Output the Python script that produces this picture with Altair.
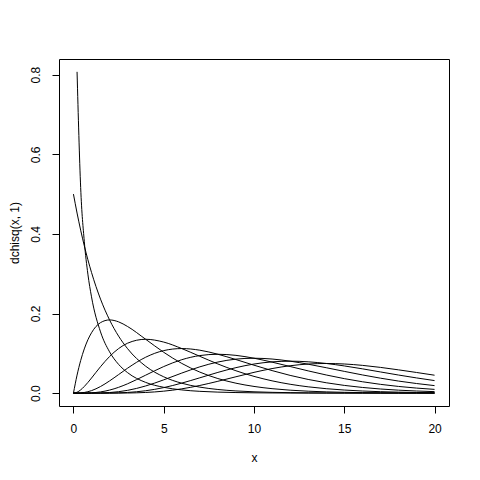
import altair as alt
import pandas as pd

# x grid and densities (degrees of freedom 1, 2, 4, ..., 16)
x_vals = [0, 0.2, 0.4, 0.6, 0.8, 1, 1.5, 2, 2.5, 3, 4, 5, 6, 7, 8, 9, 10,
          11, 12, 13, 14, 15, 16, 17, 18, 19, 20]

df1 = [None, 0.80717, 0.51644, 0.38155, 0.29898, 0.24197, 0.15387, 0.10378, 0.07229,
       0.05139, 0.02700, 0.01465, 0.00811, 0.00455, 0.00258, 0.00148, 0.00085,
       0.00049, 0.00029, 0.00017, 0.0001, 0.00006, 0.00003, 0.00002, 0.00001, 0.00001, 0.0]
df2 = [0.5, 0.45242, 0.40937, 0.37041, 0.33516, 0.30327, 0.23618, 0.18394, 0.14325,
       0.11157, 0.06767, 0.04104, 0.02489, 0.0151, 0.00916, 0.00555, 0.00337,
       0.00204, 0.00124, 0.00075, 0.00046, 0.00028, 0.00017, 0.0001, 0.00006, 0.00004, 0.00002]
df4 = [0.0, 0.04524, 0.08187, 0.11112, 0.13406, 0.15163, 0.17714, 0.18394, 0.17907,
       0.16735, 0.13534, 0.10261, 0.07468, 0.05285, 0.03663, 0.025, 0.01685,
       0.01124, 0.00744, 0.00489, 0.00319, 0.00207, 0.00134, 0.00087, 0.00056, 0.00036, 0.00023]
df6 = [0.0, 0.00226, 0.00819, 0.01667, 0.02681, 0.03791, 0.06643, 0.09197, 0.11192,
       0.12551, 0.13534, 0.12826, 0.11202, 0.09248, 0.07326, 0.05624, 0.04211,
       0.03091, 0.02231, 0.01588, 0.01117, 0.00778, 0.00537, 0.00368, 0.0025, 0.00169, 0.00114]
df8 = [0.0, 0.00008, 0.00055, 0.00167, 0.00358, 0.00632, 0.01661, 0.03066, 0.04663,
       0.06276, 0.09022, 0.10688, 0.11202, 0.10789, 0.09768, 0.08436, 0.07019,
       0.05666, 0.04462, 0.03441, 0.02607, 0.01945, 0.01432, 0.01042, 0.00749, 0.00536, 0.00378]
df10 = [0.0, 0.0, 0.00003, 0.00013, 0.00036, 0.00079, 0.00311, 0.00766, 0.01457,
        0.02353, 0.04511, 0.0668, 0.08402, 0.09441, 0.09768, 0.09491, 0.08773,
        0.07791, 0.06692, 0.05591, 0.04562, 0.03646, 0.02863, 0.02213, 0.01686, 0.01272, 0.00946]
df12 = [0.0, 0.0, 0.0, 0.00001, 0.00003, 0.00008, 0.00047, 0.00153, 0.00364,
        0.00706, 0.01805, 0.0334, 0.05041, 0.06608, 0.07815, 0.08542, 0.08773,
        0.0857, 0.08031, 0.07268, 0.06387, 0.05469, 0.04581, 0.03762, 0.03035, 0.02416, 0.01892]
df14 = [0.0, 0.0, 0.0, 0.0, 0.0, 0.00001, 0.00006, 0.00026, 0.00076,
        0.00177, 0.00602, 0.01392, 0.02521, 0.03855, 0.0521, 0.06406, 0.07311,
        0.07856, 0.08031, 0.07874, 0.07451, 0.06836, 0.06108, 0.0533, 0.04553, 0.03826, 0.03153]
df16 = [0.0, 0.0, 0.0, 0.0, 0.0, 0.0, 0.00001, 0.00004, 0.00014,
        0.00038, 0.00172, 0.00497, 0.0108, 0.01928, 0.02977, 0.04118, 0.05222,
        0.06173, 0.06884, 0.07312, 0.07451, 0.07324, 0.0698, 0.06472, 0.05854, 0.05192, 0.04504]

series = {1: df1, 2: df2, 4: df4, 6: df6, 8: df8, 10: df10, 12: df12, 14: df14, 16: df16}

x_ticks = [0, 5, 10, 15, 20]
y_ticks = [0.0, 0.2, 0.4, 0.6, 0.8]

rows = []
for k, ys in series.items():
    for xv, yv in zip(x_vals, ys):
        if yv is not None:
            rows.append({"x": xv, "y": yv, "df": k})
data = pd.DataFrame(rows)

FONT = "Liberation Sans"

chart = alt.Chart(data).mark_line(
    color="black", strokeWidth=1, interpolate="monotone"
).encode(
    x=alt.X("x:Q",
            scale=alt.Scale(domain=[-0.8, 20.8], nice=False, zero=False),
            axis=alt.Axis(values=x_ticks, format="d", title="x", grid=False,
                          domain=False, tickSize=7, tickColor="black",
                          labelPadding=19, labelBaseline="alphabetic",
                          labelFont=FONT, labelFontSize=12, labelColor="black",
                          titleFont=FONT, titleFontSize=12, titleFontWeight="normal",
                          titleColor="black", titleX=195, titleY=55,
                          titleBaseline="alphabetic", titleAlign="center")),
    y=alt.Y("y:Q",
            scale=alt.Scale(domain=[-0.0323, 0.8394], nice=False, zero=False),
            axis=alt.Axis(values=y_ticks, format=".1f", title="dchisq(x, 1)", grid=False,
                          domain=False, tickSize=7, tickColor="black",
                          labelAngle=270, labelAlign="center", labelBaseline="alphabetic",
                          labelPadding=13,
                          labelFont=FONT, labelFontSize=12, labelColor="black",
                          titleFont=FONT, titleFontSize=12, titleFontWeight="normal",
                          titleColor="black", titleAngle=270, titleX=-41, titleY=173.5,
                          titleBaseline="alphabetic", titleAlign="center")),
    detail="df:N",
).properties(
    width=390, height=347,
    autosize=alt.AutoSizeParams(type="none"),
    padding={"left": 51, "top": 51, "right": 10, "bottom": 70},
    background="white",
).configure_view(
    stroke="black", strokeWidth=1
)

chart.save("out.html", embed_options={"renderer": "svg", "actions": False})
